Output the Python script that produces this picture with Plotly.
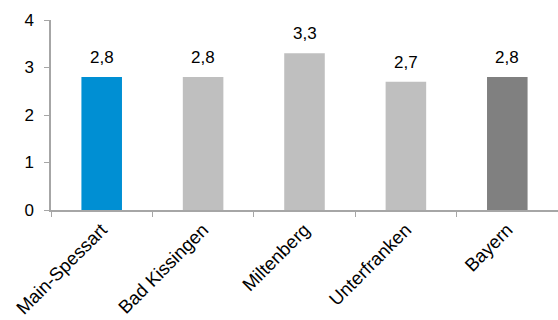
import plotly.graph_objects as go

categories = ["Main-Spessart", "Bad Kissingen", "Miltenberg", "Unterfranken", "Bayern"]
values = [2.8, 2.8, 3.3, 2.7, 2.8]
bar_colors = ["#008FD3", "#BFBFBF", "#BFBFBF", "#BFBFBF", "#808080"]
value_labels = [f"{v:.1f}".replace(".", ",") for v in values]
y_ticks = [0, 1, 2, 3, 4]

font_family = "Liberation Sans, Arial, sans-serif"

fig = go.Figure()
fig.add_trace(go.Bar(
    x=categories,
    y=values,
    marker=dict(color=bar_colors, line=dict(width=0)),
    hoverinfo="skip",
))

for c, v, t in zip(categories, values, value_labels):
    fig.add_annotation(
        x=c, y=v, text=t, showarrow=False,
        yanchor="bottom", yshift=8,
        font=dict(family=font_family, size=17, color="#000000"),
    )

fig.update_layout(
    width=558, height=320,
    margin=dict(l=51, r=0, t=20, b=110),
    paper_bgcolor="white", plot_bgcolor="white",
    bargap=0.6,
    showlegend=False,
    font=dict(family=font_family, size=17, color="#000000"),
    xaxis=dict(
        range=[-0.5, 4.5],
        showline=True, linecolor="#A6A6A6", linewidth=1.5,
        ticks="outside", tickson="boundaries", ticklen=5, tickcolor="#A6A6A6",
        tickangle=-45,
        showgrid=False, zeroline=False,
        tickfont=dict(family=font_family, size=18.5, color="#000000"),
    ),
    yaxis=dict(
        range=[0, 4],
        tickvals=y_ticks,
        showline=True, linecolor="#A6A6A6", linewidth=1.5,
        ticks="outside", ticklen=5, tickcolor="#A6A6A6",
        ticklabelstandoff=7,
        showgrid=False, zeroline=False,
        tickfont=dict(family=font_family, size=17, color="#000000"),
    ),
)

fig.write_html("out.html")
